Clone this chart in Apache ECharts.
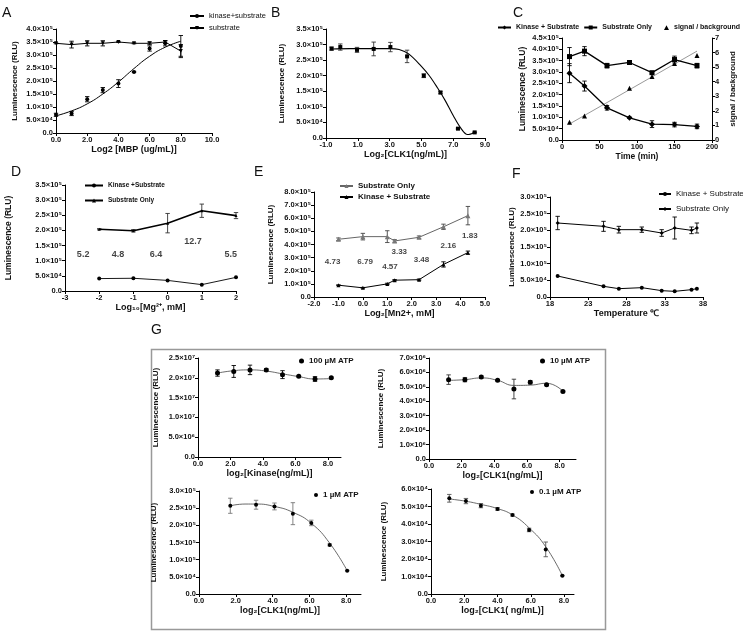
<!DOCTYPE html>
<html><head><meta charset="utf-8">
<script src="https://cdn.jsdelivr.net/npm/echarts@6/dist/echarts.min.js"></script>
<style>html,body{margin:0;padding:0;background:#fff}#c{width:743px;height:633px}</style>
</head><body><div id="c"></div>
<script>
// ================= DATA =================
// Panel A
const aX = [0, 1, 2, 3, 4, 5, 6, 7, 8];
const aKinase = [0.70e5, 0.75e5, 1.30e5, 1.65e5, 1.90e5, 2.35e5, 3.25e5, 3.45e5, 3.35e5];
const aKinaseErr = [0.06e5, 0.08e5, 0.1e5, 0.1e5, 0.15e5, 0.02e5, 0.1e5, 0.1e5, 0.4e5];
const aSubstrate = [3.45e5, 3.40e5, 3.45e5, 3.45e5, 3.50e5, 3.45e5, 3.45e5, 3.50e5, 3.15e5];
const aSubstrateErr = [0.02e5, 0.13e5, 0.1e5, 0.1e5, 0.02e5, 0.02e5, 0.05e5, 0.05e5, 0.25e5];
const aFitX = [0, 1, 2, 3, 4, 5, 6, 7, 8];
const aFitY = [0.66e5, 0.85e5, 1.12e5, 1.50e5, 1.96e5, 2.48e5, 2.95e5, 3.30e5, 3.53e5];
// Panel B
const bX = [-0.65, -0.1, 0.95, 2.0, 3.05, 4.1, 5.15, 6.2, 7.3, 8.35];
const bY = [2.87e5, 2.92e5, 2.83e5, 2.86e5, 2.92e5, 2.62e5, 2.0e5, 1.46e5, 0.3e5, 0.18e5];
const bErr = [0.05e5, 0.1e5, 0.08e5, 0.22e5, 0.15e5, 0.2e5, 0.06e5, 0.04e5, 0.02e5, 0.01e5];
const bFitX = [-0.65, 0.5, 2.0, 3.0, 3.6, 4.2, 5.0, 5.5, 6.0, 6.5, 7.0, 7.5, 7.9, 8.35];
const bFitY = [2.86e5, 2.87e5, 2.87e5, 2.87e5, 2.84e5, 2.7e5, 2.3e5, 2.0e5, 1.62e5, 1.2e5, 0.72e5, 0.3e5, 0.11e5, 0.18e5];
// Panel C
const cX = [10, 30, 60, 90, 120, 150, 180];
const cKinase = [2.95e5, 2.38e5, 1.42e5, 0.98e5, 0.70e5, 0.68e5, 0.60e5];
const cKinaseErr = [0.42e5, 0.22e5, 0.1e5, 0.03e5, 0.15e5, 0.1e5, 0.1e5];
const cSubstrate = [3.68e5, 3.92e5, 3.28e5, 3.42e5, 2.97e5, 3.55e5, 3.28e5];
const cSubstrateErr = [0.4e5, 0.2e5, 0.1e5, 0.03e5, 0.05e5, 0.15e5, 0.1e5];
const cRatio = [1.22, 1.65, 2.3, 3.55, 4.35, 5.25, 5.8];
const cTrendX = [10, 180];
const cTrendY = [1.1, 6.1];
// Panel D
const dX = [-2, -1, 0, 1, 2];
const dSubstrate = [2.04e5, 1.99e5, 2.24e5, 2.65e5, 2.49e5];
const dSubstrateErr = [0.02e5, 0.04e5, 0.32e5, 0.22e5, 0.1e5];
const dKinase = [0.41e5, 0.42e5, 0.35e5, 0.21e5, 0.45e5];
const dNoteX = [-2.47, -1.45, -0.34, 0.74, 1.85];
const dNoteY = [1.22e5, 1.22e5, 1.22e5, 1.63e5, 1.22e5];
const dNote = ['5.2', '4.8', '6.4', '12.7', '5.5'];
// Panel E
const eX = [-1, 0, 1, 1.3, 2.3, 3.3, 4.3];
const eSubstrate = [4.4e5, 4.6e5, 4.6e5, 4.27e5, 4.55e5, 5.35e5, 6.2e5];
const eSubstrateErr = [0.1e5, 0.25e5, 0.45e5, 0.1e5, 0.1e5, 0.2e5, 0.7e5];
const eKinase = [0.9e5, 0.7e5, 1.0e5, 1.28e5, 1.32e5, 2.48e5, 3.38e5];
const eKinaseErr = [0.03e5, 0.03e5, 0.05e5, 0.05e5, 0.05e5, 0.2e5, 0.12e5];
const eNoteX = [-1.24, 0.09, 1.11, 1.49, 2.4, 3.5, 4.38];
const eNoteY = [2.68e5, 2.68e5, 2.3e5, 3.45e5, 2.8e5, 3.9e5, 4.65e5];
const eNote = ['4.73', '6.79', '4.57', '3.33', '3.48', '2.16', '1.83'];
// Panel F
const fX = [19, 25, 27, 30, 32.6, 34.3, 36.5, 37.2];
const fSubstrate = [2.22e5, 2.12e5, 2.02e5, 2.02e5, 1.92e5, 2.07e5, 2.0e5, 2.07e5];
const fSubstrateErr = [0.2e5, 0.15e5, 0.1e5, 0.08e5, 0.1e5, 0.33e5, 0.1e5, 0.15e5];
const fKinase = [0.63e5, 0.32e5, 0.25e5, 0.28e5, 0.19e5, 0.17e5, 0.22e5, 0.25e5];
// Panel G1 (100 uM ATP)
const g1X = [1.2, 2.2, 3.2, 4.2, 5.2, 6.2, 7.2, 8.2];
const g1Y = [2.12e7, 2.16e7, 2.2e7, 2.2e7, 2.08e7, 2.04e7, 1.97e7, 2.0e7];
const g1Err = [0.08e7, 0.15e7, 0.12e7, 0.03e7, 0.1e7, 0.02e7, 0.06e7, 0.02e7];
const g1FitY = [2.12e7, 2.18e7, 2.2e7, 2.17e7, 2.1e7, 2.03e7, 1.97e7, 1.98e7];
// Panel G2 (10 uM ATP)
const g2X = [1.2, 2.2, 3.2, 4.2, 5.2, 6.2, 7.2, 8.2];
const g2Y = [5.5e6, 5.5e6, 5.68e6, 5.45e6, 4.85e6, 5.32e6, 5.15e6, 4.68e6];
const g2Err = [0.33e6, 0.15e6, 0.08e6, 0.05e6, 0.68e6, 0.12e6, 0.05e6, 0.05e6];
const g2FitY = [5.45e6, 5.5e6, 5.62e6, 5.45e6, 5.1e6, 5.12e6, 5.25e6, 4.7e6];
// Panel G3 (1 uM ATP)
const g3X = [1.7, 3.1, 4.1, 5.1, 6.1, 7.1, 8.05];
const g3Y = [2.57e5, 2.6e5, 2.55e5, 2.34e5, 2.07e5, 1.43e5, 0.68e5];
const g3Err = [0.22e5, 0.13e5, 0.1e5, 0.32e5, 0.08e5, 0.03e5, 0.01e5];
const g3FitX = [1.7, 2.5, 3.1, 4.1, 5.1, 6.1, 7.1, 8.05];
const g3FitY = [2.57e5, 2.62e5, 2.62e5, 2.55e5, 2.38e5, 2.06e5, 1.48e5, 0.68e5];
// Panel G4 (0.1 uM ATP)
const g4X = [1.1, 2.1, 3.0, 4.0, 4.9, 5.9, 6.9, 7.9];
const g4Y = [5.47e4, 5.31e4, 5.05e4, 4.86e4, 4.51e4, 3.66e4, 2.55e4, 1.05e4];
const g4Err = [0.22e4, 0.15e4, 0.12e4, 0.08e4, 0.06e4, 0.1e4, 0.42e4, 0.02e4];
const g4FitY = [5.43e4, 5.3e4, 5.12e4, 4.88e4, 4.52e4, 3.78e4, 2.7e4, 1.05e4];
// Tick values for axes whose ticks don't start at a multiple of the interval
const bXTicks = [-1, 1, 3, 5, 7, 9];
const fXTicks = [18, 23, 28, 33, 38];
const gXTicks = [0, 2, 4, 6, 8];

// ================= LAYOUT / STYLE =================
const FONT = '"Liberation Sans", Arial, Helvetica, sans-serif';
const SUPS = {'0':'⁰','1':'¹','2':'²','3':'³','4':'⁴','5':'⁵','6':'⁶','7':'⁷','8':'⁸','9':'⁹'};
function sci(v) {
  v = Math.round(v);
  if (v === 0) return '0.0';
  const e = Math.floor(Math.log10(v) + 1e-9);
  const m = v / Math.pow(10, e);
  return m.toFixed(1) + '×10' + String(e).split('').map(c => SUPS[c]).join('');
}
const f1 = v => (Math.round(v * 10) / 10).toFixed(1);
const f0 = v => String(Math.round(v));
const BOX = [
  [56, 29, 156, 104], [326, 29, 159, 109], [562, 38, 150, 102],
  [65, 185, 171, 106], [314, 192, 171, 105], [550, 197, 153, 100],
  [198, 358, 143, 99], [429, 358, 147, 101], [199, 491, 162, 103], [431, 489, 143, 105]
];
const grids = BOX.map(b => ({left: b[0], top: b[1], width: b[2], height: b[3], containLabel: false}));

const labelStyle = {fontSize: 7.5, fontWeight: 'bold', color: '#111', fontFamily: FONT, margin: 3};
function xAx(i, min, max, opt) {
  const o = {
    type: 'value', gridIndex: i, min: min, max: max,
    axisLine: {onZero: false, lineStyle: {color: '#000', width: 1}},
    axisTick: {show: true, length: 3, lineStyle: {color: '#000'}},
    axisLabel: Object.assign({formatter: opt.fmt}, labelStyle),
    splitLine: {show: false},
    name: opt.name, nameLocation: 'middle', nameGap: opt.gap,
    nameTextStyle: {fontSize: opt.ns || 9, fontWeight: 'bold', color: '#111', fontFamily: FONT}
  };
  if (opt.ticks) { o.axisTick.customValues = opt.ticks; o.axisLabel.customValues = opt.ticks; }
  else o.interval = opt.interval;
  return o;
}
function yAx(i, max, interval, opt) {
  return {
    type: 'value', gridIndex: i, min: 0, max: max, interval: interval,
    position: opt.pos || 'left',
    axisLine: {show: true, onZero: false, lineStyle: {color: '#000', width: 1}},
    axisTick: {show: true, length: 3, lineStyle: {color: '#000'}},
    axisLabel: Object.assign({formatter: opt.fmt || sci}, labelStyle),
    splitLine: {show: false},
    name: opt.name === undefined ? 'Luminescence (RLU)' : opt.name,
    nameLocation: 'middle', nameGap: opt.gap, nameRotate: 90,
    nameTextStyle: {fontSize: opt.ns || 8, fontWeight: 'bold', color: '#111', fontFamily: FONT}
  };
}
const pts = (xs, ys) => xs.map((x, i) => [x, ys[i]]);
const errs = (xs, ys, es) => xs.map((x, i) => [x, ys[i] - es[i], ys[i] + es[i]]);
function errSeries(ax, ay, data, color) {
  return {
    type: 'custom', xAxisIndex: ax, yAxisIndex: ay, silent: true, z: 2,
    encode: {x: 0, y: [1, 2]}, data: data,
    renderItem: function (params, api) {
      const x = api.value(0), lo = api.value(1), hi = api.value(2);
      const p1 = api.coord([x, lo]), p2 = api.coord([x, hi]); const w = 2.2;
      const st = {stroke: color || '#000', lineWidth: 0.9};
      return {type: 'group', children: [
        {type: 'line', shape: {x1: p1[0], y1: p1[1], x2: p2[0], y2: p2[1]}, style: st},
        {type: 'line', shape: {x1: p1[0] - w, y1: p1[1], x2: p1[0] + w, y2: p1[1]}, style: st},
        {type: 'line', shape: {x1: p2[0] - w, y1: p2[1], x2: p2[0] + w, y2: p2[1]}, style: st}
      ]};
    }
  };
}
function lineS(name, ax, ay, data, o) {
  return Object.assign({
    name: name, type: 'line', xAxisIndex: ax, yAxisIndex: ay, data: data,
    symbol: 'circle', symbolSize: 4, showSymbol: true, z: 3,
    lineStyle: {color: '#000', width: 1}, itemStyle: {color: '#000'}
  }, o || {});
}
function scatS(name, ax, ay, data, o) {
  return Object.assign({
    name: name, type: 'scatter', xAxisIndex: ax, yAxisIndex: ay, data: data,
    symbol: 'circle', symbolSize: 4, z: 4, itemStyle: {color: '#000', opacity: 1}
  }, o || {});
}
function noteS(ax, ay, xs, ys, texts, size) {
  return {
    type: 'scatter', xAxisIndex: ax, yAxisIndex: ay, symbolSize: 0, silent: true,
    data: xs.map((x, i) => ({value: [x, ys[i]], name: texts[i]})),
    label: {show: true, position: 'inside', formatter: '{b}', fontSize: size, fontWeight: 'bold', color: '#111', fontFamily: FONT}
  };
}
function leg(names, left, top, o) {
  return Object.assign({
    data: names, left: left, top: top, orient: 'vertical', itemWidth: 14, itemHeight: 5,
    itemGap: 4, padding: 0, selectedMode: false,
    textStyle: {fontSize: 7.5, fontWeight: 'bold', color: '#111', fontFamily: FONT, padding: [0, 0, 0, -2]}
  }, o || {});
}

const xAxes = [
  xAx(0, 0, 10, {interval: 2, fmt: f1, name: 'Log2 [MBP (ug/mL)]', gap: 10}),
  xAx(1, -1, 9, {ticks: bXTicks, fmt: f1, name: 'Log₂[CLK1(ng/mL)]', gap: 10}),
  xAx(2, 0, 200, {interval: 50, fmt: f0, name: 'Time (min)', gap: 11, ns: 8.5}),
  xAx(3, -3, 2, {interval: 1, fmt: f0, name: 'Log₁₀[Mg²⁺, mM]', gap: 9}),
  xAx(4, -2, 5, {interval: 1, fmt: f1, name: 'Log₂[Mn2+, mM]', gap: 12}),
  xAx(5, 18, 38, {ticks: fXTicks, fmt: f0, name: 'Temperature ℃', gap: 11}),
  xAx(6, 0, 8.8, {ticks: gXTicks, fmt: f1, name: 'log₂[Kinase(ng/mL)]', gap: 11}),
  xAx(7, 0, 9, {ticks: gXTicks, fmt: f1, name: 'log₂[CLK1(ng/mL)]', gap: 9}),
  xAx(8, 0, 8.8, {ticks: gXTicks, fmt: f1, name: 'log₂[CLK1(ng/mL)]', gap: 9}),
  xAx(9, 0, 8.6, {ticks: gXTicks, fmt: f1, name: 'log₂[CLK1( ng/mL)]', gap: 8})
];
const yAxes = [
  yAx(0, 4e5, 0.5e5, {gap: 37}),
  yAx(1, 3.5e5, 0.5e5, {gap: 40}),
  yAx(2, 4.5e5, 0.5e5, {gap: 35, ns: 8.5}),
  yAx(3, 3.5e5, 0.5e5, {gap: 52, ns: 8.5}),
  yAx(4, 8e5, 1e5, {gap: 39}),
  yAx(5, 3e5, 0.5e5, {gap: 31}),
  yAx(6, 2.5e7, 0.5e7, {gap: 38}),
  yAx(7, 7e6, 1e6, {gap: 44}),
  yAx(8, 3e5, 0.5e5, {gap: 41}),
  yAx(9, 6e4, 1e4, {gap: 43}),
  yAx(2, 7, 1, {pos: 'right', fmt: f0, name: 'signal / background', gap: 17})
];

const series = [
  // A
  lineS('kinase+substrate', 0, 0, pts(aFitX, aFitY), {smooth: true, showSymbol: false}),
  scatS('A kinase pts', 0, 0, pts(aX, aKinase)),
  errSeries(0, 0, errs(aX, aKinase, aKinaseErr)),
  lineS('substrate', 0, 0, pts(aX, aSubstrate), {symbol: 'triangle', symbolRotate: 180, symbolSize: 4}),
  errSeries(0, 0, errs(aX, aSubstrate, aSubstrateErr)),
  // B
  lineS('B fit', 1, 1, pts(bFitX, bFitY), {smooth: 0.35, showSymbol: false, symbol: 'none', lineStyle: {color: '#000', width: 1.1}}),
  scatS('B pts', 1, 1, pts(bX, bY), {symbol: 'rect', symbolSize: 4}),
  errSeries(1, 1, errs(bX, bY, bErr), '#333'),
  // C
  lineS('Kinase + Substrate', 2, 2, pts(cX, cKinase), {symbol: 'diamond', symbolSize: 6, lineStyle: {color: '#000', width: 1.3}}),
  errSeries(2, 2, errs(cX, cKinase, cKinaseErr)),
  lineS('Substrate Only', 2, 2, pts(cX, cSubstrate), {symbol: 'rect', symbolSize: 5, lineStyle: {color: '#000', width: 1.3}}),
  errSeries(2, 2, errs(cX, cSubstrate, cSubstrateErr)),
  lineS('C trend', 2, 10, pts(cTrendX, cTrendY), {symbol: 'none', showSymbol: false, lineStyle: {color: '#999', width: 1}, z: 2}),
  scatS('signal / background', 2, 10, pts(cX, cRatio), {symbol: 'triangle', symbolSize: 5}),
  // D
  lineS('Kinase +Substrate', 3, 3, pts(dX, dKinase), {symbolSize: 4, lineStyle: {color: '#000', width: 0.9}}),
  lineS('D Substrate Only', 3, 3, pts(dX, dSubstrate), {symbol: 'triangle', symbolSize: 3, lineStyle: {color: '#000', width: 1.6}}),
  errSeries(3, 3, errs(dX, dSubstrate, dSubstrateErr), '#333'),
  noteS(3, 3, dNoteX, dNoteY, dNote, 9),
  // E
  lineS('E Substrate Only', 4, 4, pts(eX, eSubstrate), {symbol: 'triangle', symbolSize: 5, lineStyle: {color: '#666', width: 1}, itemStyle: {color: '#777'}}),
  errSeries(4, 4, errs(eX, eSubstrate, eSubstrateErr), '#444'),
  lineS('E Kinase + Substrate', 4, 4, pts(eX, eKinase), {symbol: 'triangle', symbolSize: 4}),
  errSeries(4, 4, errs(eX, eKinase, eKinaseErr)),
  noteS(4, 4, eNoteX, eNoteY, eNote, 8),
  // F
  lineS('F Kinase + Substrate', 5, 5, pts(fX, fKinase), {symbol: 'circle', symbolSize: 4}),
  lineS('F Substrate Only', 5, 5, pts(fX, fSubstrate), {symbol: 'diamond', symbolSize: 4}),
  errSeries(5, 5, errs(fX, fSubstrate, fSubstrateErr)),
  // G1
  lineS('G1 fit', 6, 6, pts(g1X, g1FitY), {smooth: true, showSymbol: false, symbol: 'none', lineStyle: {color: '#444', width: 0.8}}),
  scatS('100 µM ATP', 6, 6, pts(g1X, g1Y), {symbolSize: 5}),
  errSeries(6, 6, errs(g1X, g1Y, g1Err)),
  // G2
  lineS('G2 fit', 7, 7, pts(g2X, g2FitY), {smooth: true, showSymbol: false, symbol: 'none', lineStyle: {color: '#444', width: 0.8}}),
  scatS('10 µM ATP', 7, 7, pts(g2X, g2Y), {symbolSize: 5}),
  errSeries(7, 7, errs(g2X, g2Y, g2Err), '#333'),
  // G3
  lineS('G3 fit', 8, 8, pts(g3FitX, g3FitY), {smooth: true, showSymbol: false, symbol: 'none', lineStyle: {color: '#444', width: 0.8}}),
  scatS('1 µM ATP', 8, 8, pts(g3X, g3Y), {symbolSize: 4}),
  errSeries(8, 8, errs(g3X, g3Y, g3Err), '#777'),
  // G4
  lineS('G4 fit', 9, 9, pts(g4X, g4FitY), {smooth: true, showSymbol: false, symbol: 'none', lineStyle: {color: '#444', width: 0.8}}),
  scatS('0.1 µM ATP', 9, 9, pts(g4X, g4Y), {symbolSize: 4}),
  errSeries(9, 9, errs(g4X, g4Y, g4Err), '#555')
];

const TRI_ICON = 'path://M0,0h0.01v0.01h-0.01z M13,5h0.01v0.01h-0.01z M10.5,0.3L13,5L8,5Z';
const legends = [
  leg(['kinase+substrate', 'substrate'], 189, 12, {itemGap: 4, textStyle: {fontSize: 7.5, color: '#111', fontFamily: FONT}}),
  leg([{name: 'Kinase + Substrate'}, {name: 'Substrate Only'}, {name: 'signal / background', icon: TRI_ICON}], 497, 24,
      {orient: 'horizontal', width: 246, itemWidth: 13, itemGap: 4, textStyle: {fontSize: 7, fontWeight: 'bold', color: '#111', fontFamily: FONT}}),
  leg([{name: 'Kinase +Substrate'}, {name: 'D Substrate Only'}], 84, 182,
      {itemWidth: 18, itemGap: 8, formatter: n => n.replace('D ', ''), textStyle: {fontSize: 6.5, fontWeight: 'bold', color: '#111', fontFamily: FONT}}),
  leg(['E Substrate Only', 'E Kinase + Substrate'], 339, 182,
      {itemWidth: 13, itemGap: 3, formatter: n => n.replace('E ', ''), textStyle: {fontSize: 8, fontWeight: 'bold', color: '#111', fontFamily: FONT}}),
  leg(['F Kinase + Substrate', 'F Substrate Only'], 658, 190,
      {itemWidth: 12, itemGap: 7, formatter: n => n.replace('F ', ''), textStyle: {fontSize: 8, color: '#111', fontFamily: FONT}}),
  leg(['100 µM ATP'], 299, 357, {itemWidth: 5, itemHeight: 5, textStyle: {fontSize: 8, fontWeight: 'bold', color: '#111', fontFamily: FONT}}),
  leg(['10 µM ATP'], 540, 357, {itemWidth: 5, itemHeight: 5, textStyle: {fontSize: 8, fontWeight: 'bold', color: '#111', fontFamily: FONT}}),
  leg(['1 µM ATP'], 314, 491, {itemWidth: 4, itemHeight: 4, textStyle: {fontSize: 8, fontWeight: 'bold', color: '#111', fontFamily: FONT}}),
  leg(['0.1 µM ATP'], 530, 488, {itemWidth: 4, itemHeight: 4, textStyle: {fontSize: 8, fontWeight: 'bold', color: '#111', fontFamily: FONT}})
];

const letter = (t, x, y) => ({type: 'text', left: x, top: y, style: {text: t, font: '14px "Liberation Sans", Arial, sans-serif', fill: '#111'}});
const graphics = [
  {type: 'rect', left: 149, top: 347, shape: {width: 454, height: 280}, style: {fill: 'none', stroke: '#999', lineWidth: 1.5}, z: -1},
  letter('A', 2, 6), letter('B', 271, 6), letter('C', 513, 6),
  letter('D', 11, 165), letter('E', 254, 165), letter('F', 512, 167), letter('G', 151, 323)
];

const chart = echarts.init(document.getElementById('c'), null, {renderer: 'canvas'});
chart.setOption({
  animation: false, backgroundColor: '#fff',
  grid: grids, xAxis: xAxes, yAxis: yAxes, series: series, legend: legends, graphic: graphics
});
</script></body></html>
